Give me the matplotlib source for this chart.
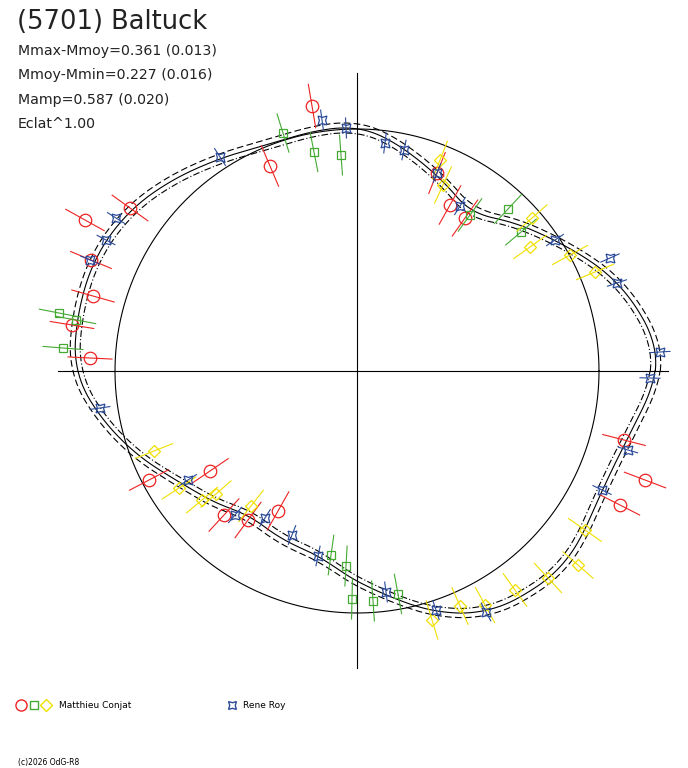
import numpy as np
import matplotlib
matplotlib.use("Agg")
import matplotlib.pyplot as plt

# model curve: polar angle (deg) and radius (pixel-like units)
curve_ang = [0, 4, 18, 33, 54, 66, 78, 84, 90, 93, 111, 123, 145, 157, 170, 180, 188,
             212, 233, 259, 278, 288, 299, 316, 334, 346, 356]
curve_r = [300, 302, 277, 237, 193, 208, 226, 237, 244, 244, 242, 252, 278, 285, 284, 282, 265,
           208, 179, 188, 226, 253, 275, 284, 271, 277, 294]
circle_r = 242

# observations as (x, y) offsets from the centre
red_x = [-45, -87, -227, -272, -266, -264, -285, -267, -147, -208, -109, -133, -79, 80, 93, 108, 267, 288, 263]
red_y = [265, 205, 163, 151, 111, 75, 46, 13, -100, -109, -149, -144, -140, 198, 166, 153, -69, -109, -134]
grn_x = [-74, -43, -16, -298, -281, -294, -26, -11, -5, 16, 41, 113, 151, 164]
grn_y = [238, 219, 216, 58, 51, 23, -184, -195, -228, -230, -223, 156, 162, 139]
yel_x = [-203, -178, -155, -141, -106, 83, 86, 175, 173, 213, 238, 228, 221, 191, 158, 128, 103, 75]
yel_y = [-80, -117, -129, -123, -135, 211, 186, 153, 124, 116, 99, -159, -194, -207, -219, -234, -235, -249]
blu_x = [-11, -35, -137, -241, -251, -267, -257, -169, -122, -92, -65, -39, 29, 79, 129, 198, 253, 260, 303, 293, 271, 245, 28, 47, 80, 103]
blu_y = [243, 251, 214, 153, 131, 111, -37, -109, -144, -147, -164, -185, -221, -239, -241, 131, 113, 88, 19, -7, -79, -119, 228, 221, 198, 165]

fig = plt.figure(figsize=(6.88, 7.68), dpi=100)
ax = fig.add_axes([0, 0, 1, 1])
ax.set_xlim(-357, 331)
ax.set_ylim(-397, 371)
ax.axis("off")

ax.plot([-299, 311], [0, 0], color="black", lw=0.8)
ax.plot([0, 0], [-297, 298], color="black", lw=0.8)
t = np.linspace(0, 2*np.pi, 400)
ax.plot(circle_r*np.cos(t), circle_r*np.sin(t), color="black", lw=0.8)

a = np.deg2rad(np.array(curve_ang + [360]))
r = np.array(curve_r + [curve_r[0]])
tt = np.linspace(0, 2*np.pi, 720)
aa = np.concatenate([a[:-1]-2*np.pi, a[:-1], a[:-1]+2*np.pi])
rr = np.concatenate([r[:-1]]*3)
rs = np.interp(tt, aa, rr)
k = np.ones(25)/25
rs = np.convolve(np.concatenate([rs[-12:], rs, rs[:12]]), k, mode="valid")
for off, ls in [(0, "-"), (5, (0, (6, 3))), (-5, (0, (6, 2, 1, 2)))]:
    ax.plot((rs+off)*np.cos(tt), (rs+off)*np.sin(tt), color="black", lw=0.8, linestyle=ls)

def draw(xs, ys, col, marker, ms, err):
    xs = np.array(xs, float); ys = np.array(ys, float)
    rad = np.hypot(xs, ys); ux, uy = xs/rad, ys/rad
    for x, y, u, v in zip(xs, ys, ux, uy):
        ax.plot([x-err*u, x+err*u], [y-err*v, y+err*v], color=col, lw=0.8)
    ax.plot(xs, ys, linestyle="none", marker=marker, ms=ms, mfc="none", mec=col, mew=0.9)

draw(red_x, red_y, "#ee2222", "o", 9, 22)
draw(grn_x, grn_y, "#44aa33", "s", 6, 20)
draw(yel_x, yel_y, "#f0e000", "D", 6, 20)
draw(blu_x, blu_y, "#2a4a9a", (4, 1, 45), 9, 10)

fig.text(17/688, 1-22/768, "(5701) Baltuck", fontsize=18.5, va="center", color="#222222")
for i, s in enumerate(["Mmax-Mmoy=0.361 (0.013)", "Mmoy-Mmin=0.227 (0.016)",
                       "Mamp=0.587 (0.020)", "Eclat^1.00"]):
    fig.text(18/688, 1-(51+24.5*i)/768, s, fontsize=10.2, va="center", color="#222222")

y0 = 1-705/768
fig.add_artist(plt.Line2D([21/688], [y0], marker="o", ms=8, mfc="none", mec="#ee2222", ls="none"))
fig.add_artist(plt.Line2D([34/688], [y0], marker="s", ms=6, mfc="none", mec="#44aa33", ls="none"))
fig.add_artist(plt.Line2D([46/688], [y0], marker="D", ms=6, mfc="none", mec="#f0e000", ls="none"))
fig.text(59/688, y0, "Matthieu Conjat", fontsize=6.5, va="center")
fig.add_artist(plt.Line2D([232/688], [y0], marker=(4, 1, 45), ms=8, mfc="none", mec="#2a4a9a", ls="none"))
fig.text(243/688, y0, "Rene Roy", fontsize=6.5, va="center")
fig.text(18/688, 1-763/768, "(c)2026 OdG-R8", fontsize=5.5, va="center")

fig.savefig("out.png", dpi=100)
